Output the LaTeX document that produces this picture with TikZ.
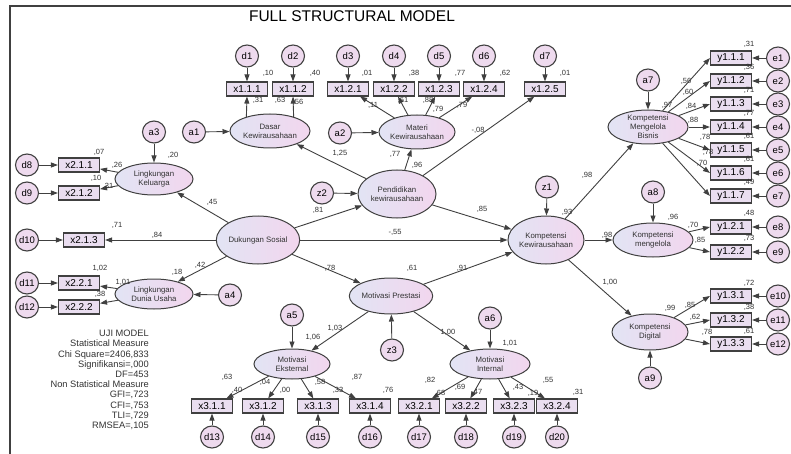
\documentclass[tikz,border=0pt]{standalone}
\usepackage{fontspec}
\setmainfont{Liberation Sans}
\usetikzlibrary{shapes.geometric,arrows.meta}
\definecolor{edge}{RGB}{64,64,64}
\definecolor{boxfill}{RGB}{234,222,240}
\definecolor{errfill}{RGB}{238,218,238}
\definecolor{latleft}{RGB}{226,228,244}
\definecolor{latright}{RGB}{242,214,238}
\definecolor{txt}{RGB}{50,50,50}
\begin{document}
\begin{tikzpicture}[x=1pt,y=-1pt,
  obs/.style={draw=edge,line width=1.1pt,fill=boxfill,minimum width=41pt,minimum height=14pt,inner sep=0pt,font=\fontsize{10}{11}\selectfont},
  err/.style={ellipse,draw=edge,line width=1.1pt,fill=errfill,minimum width=23pt,minimum height=22pt,inner sep=0pt,font=\fontsize{9.5}{10}\selectfont},
  lat/.style={ellipse,draw=edge,line width=1pt,left color=latleft,right color=latright,inner sep=0pt,align=center,text=txt,font=\fontsize{7.8}{8.8}\selectfont},
  arr/.style={draw=edge,line width=0.9pt,-{Triangle[length=7pt,width=5pt]}},
  coef/.style={inner sep=0pt,text=txt,font=\fontsize{7.5}{8}\selectfont},
  stat/.style={inner sep=0pt,align=right,text=txt,font=\fontsize{9.3}{10.2}\selectfont}]
\useasboundingbox (0,0) rectangle (791,454);
\draw[edge,line width=1.2pt] (10,454) -- (10,6) -- (791,6);
\node[inner sep=0pt,font=\fontsize{15.5}{16}\selectfont] (title) at (352,16) {FULL STRUCTURAL MODEL};
% latent variables
\node[lat,minimum width=80pt,minimum height=34pt] (dasar) at (270,131) {Dasar\\Kewirausahaan};
\node[lat,minimum width=74pt,minimum height=34pt] (materi) at (417,132) {Materi\\Kewirausahaan};
\node[lat,minimum width=78pt,minimum height=32pt] (keluarga) at (154,179) {Lingkungan\\Keluarga};
\node[lat,minimum width=76pt,minimum height=48pt] (dukungan) at (258,240) {Dukungan Sosial};
\node[lat,minimum width=78pt,minimum height=30pt] (dunia) at (154,294) {Lingkungan\\Dunia Usaha};
\node[lat,minimum width=78pt,minimum height=48pt] (pendidikan) at (397,194) {Pendidikan\\kewirausahaan};
\node[lat,minimum width=76pt,minimum height=48pt] (komkew) at (546,240) {Kompetensi\\Kewirausahaan};
\node[lat,minimum width=76pt,minimum height=36pt] (prestasi) at (391,296) {Motivasi Prestasi};
\node[lat,minimum width=76pt,minimum height=30pt] (eksternal) at (292,364) {Motivasi\\Eksternal};
\node[lat,minimum width=80pt,minimum height=30pt] (internal) at (490,364) {Motivasi\\Internal};
\node[lat,minimum width=80pt,minimum height=34pt] (bisnis) at (648,127) {Kompetensi\\Mengelola\\Bisnis};
\node[lat,minimum width=80pt,minimum height=34pt] (mengelola) at (653,240) {Kompetensi\\mengelola};
\node[lat,minimum width=76pt,minimum height=36pt] (digital) at (650,332) {Kompetensi\\Digital};
% residuals of the latents
\foreach \n/\x/\y in {a1/194/132,a2/340/133,a3/154/132,a4/230/295,a5/292/315,a6/490/318,
  a7/648/80,a8/653/192,a9/650/378,z1/547/187,z2/322/193,z3/392/350}
  \node[err] (\n) at (\x,\y) {\n};
% indicators
\foreach \n/\x [count=\i] in {1.1.1/247,1.1.2/293,1.2.1/348,1.2.2/394,1.2.3/439,1.2.4/484,1.2.5/545} {
  \node[obs] (box\i) at (\x,89) {x\n};
  \node[err] (d\i) at (\x,56) {d\i};
  \draw[arr] (d\i) -- (box\i);
}
\foreach \n/\y/\x [count=\i from 8] in {2.1.1/165/79,2.1.2/193/79,2.1.3/240/84,2.2.1/283/79,2.2.2/307/79} {
  \node[obs] (box\i) at (\x,\y) {x\n};
  \node[err] (d\i) at (27,\y) {d\i};
  \draw[arr] (d\i) -- (box\i);
}
\foreach \n/\x [count=\i from 13] in {3.1.1/212,3.1.2/263,3.1.3/318,3.1.4/370,3.2.1/419,3.2.2/466,3.2.3/514,3.2.4/557} {
  \node[obs] (box\i) at (\x,406) {x\n};
  \node[err] (d\i) at (\x,437) {d\i};
  \draw[arr] (d\i) -- (box\i);
}
\foreach \n/\y [count=\i] in {1.1.1/58,1.1.2/81,1.1.3/104,1.1.4/127,1.1.5/150,1.1.6/173,1.1.7/196,
  1.2.1/227,1.2.2/252,1.3.1/296,1.3.2/320,1.3.3/344} {
  \node[obs] (ybox\i) at (731,\y) {y\n};
  \node[err] (e\i) at (778,\y) {e\i};
  \draw[arr] (e\i) -- (ybox\i);
}
% measurement paths
\draw[arr] (dasar.149) -- (box1.south);
\draw[arr] (dasar.31) -- (box2.south);
\foreach \i in {3,...,6} \draw[arr] (materi) -- (box\i);
\draw[arr] (pendidikan) -- (box7);
\draw[arr] (keluarga) -- (box8);
\draw[arr] (keluarga) -- (box9);
\draw[arr] (dukungan) -- (box10);
\draw[arr] (dunia) -- (box11);
\draw[arr] (dunia) -- (box12);
\foreach \i in {13,...,16} \draw[arr] (eksternal) -- (box\i);
\foreach \i in {17,...,20} \draw[arr] (internal) -- (box\i);
\foreach \i in {1,...,7} \draw[arr] (bisnis) -- (ybox\i.west);
\draw[arr] (mengelola) -- (ybox8.west);
\draw[arr] (mengelola) -- (ybox9.west);
\foreach \i in {10,11,12} \draw[arr] (digital) -- (ybox\i.west);
% structural paths
\draw[arr] (a1) -- (dasar);
\draw[arr] (a2) -- (materi);
\draw[arr] (a3) -- (keluarga);
\draw[arr] (a4) -- (dunia);
\draw[arr] (a5) -- (eksternal);
\draw[arr] (a6) -- (internal);
\draw[arr] (a7) -- (bisnis);
\draw[arr] (a8) -- (mengelola);
\draw[arr] (a9) -- (digital);
\draw[arr] (z1) -- (komkew);
\draw[arr] (z2) -- (pendidikan);
\draw[arr] (z3) -- (prestasi);
\draw[arr] (pendidikan) -- (dasar);
\draw[arr] (pendidikan) -- (materi);
\draw[arr] (dukungan) -- (keluarga);
\draw[arr] (dukungan) -- (dunia);
\draw[arr] (dukungan) -- (pendidikan);
\draw[arr] (dukungan) -- (komkew);
\draw[arr] (dukungan) -- (prestasi);
\draw[arr] (pendidikan) -- (komkew);
\draw[arr] (prestasi) -- (komkew);
\draw[arr] (prestasi) -- (eksternal);
\draw[arr] (prestasi) -- (internal);
\draw[arr] (komkew) -- (bisnis);
\draw[arr] (komkew) -- (mengelola);
\draw[arr] (komkew) -- (digital);
% estimates
\foreach \x/\y/\t [count=\i] in {268/73/{,10},315/73/{,40},367/73/{,01},414/73/{,38},460/73/{,77},505/73/{,62},565/73/{,01},
  258/100/{,31},280/100/{,63},298/102/{,56},373/105/{,11},403/100/{,61},428/100/{,88},438/109/{,79},462/105/{,79},
  478/130/{-,08},340/153/{1,25},395/154/{,77},417/165/{,96},
  99/152/{,07},117/165/{,26},173/155/{,20},96/178/{,10},108/186/{,31},212/202/{,45},117/225/{,71},157/235/{,84},
  100/268/{1,02},123/282/{1,01},100/294/{,38},177/272/{,18},200/265/{,42},
  318/210/{,81},482/209/{,85},395/232/{-,55},330/268/{,78},412/268/{,61},462/268/{,91},
  335/328/{1,03},313/337/{1,06},448/332/{1,00},510/343/{1,01},
  227/377/{,63},237/390/{,40},265/382/{,04},285/390/{,00},320/382/{,58},338/390/{,33},357/377/{,87},388/390/{,76},
  430/380/{,82},440/393/{,68},460/387/{,69},477/392/{,47},518/387/{,43},533/393/{,19},548/380/{,55},578/392/{,31},
  567/212/{,93},587/175/{,98},607/235/{,98},610/282/{1,00},
  667/105/{,97},686/81/{,56},688/92/{,60},691/106/{,84},693/120/{,88},705/137/{,78},708/152/{,78},702/163/{,70},
  749/44/{,31},749/67/{,36},749/90/{,71},749/113/{,77},749/136/{,61},749/159/{,61},749/182/{,49},
  673/217/{,96},693/225/{,70},700/240/{,85},749/213/{,48},749/238/{,73},
  670/308/{,99},690/305/{,85},695/317/{,62},707/332/{,78},749/283/{,72},749/307/{,38},749/331/{,61}}
  \node[coef] (est\i) at (\x,\y) {\t};
\node[stat,anchor=north east] (ujimodel) at (149,330) {UJI MODEL\\Statistical Measure\\Chi Square=2406,833\\Signifikansi=,000\\DF=453\\Non Statistical Measure\\GFI=,723\\CFI=,753\\TLI=,729\\RMSEA=,105};
\end{tikzpicture}
\end{document}
